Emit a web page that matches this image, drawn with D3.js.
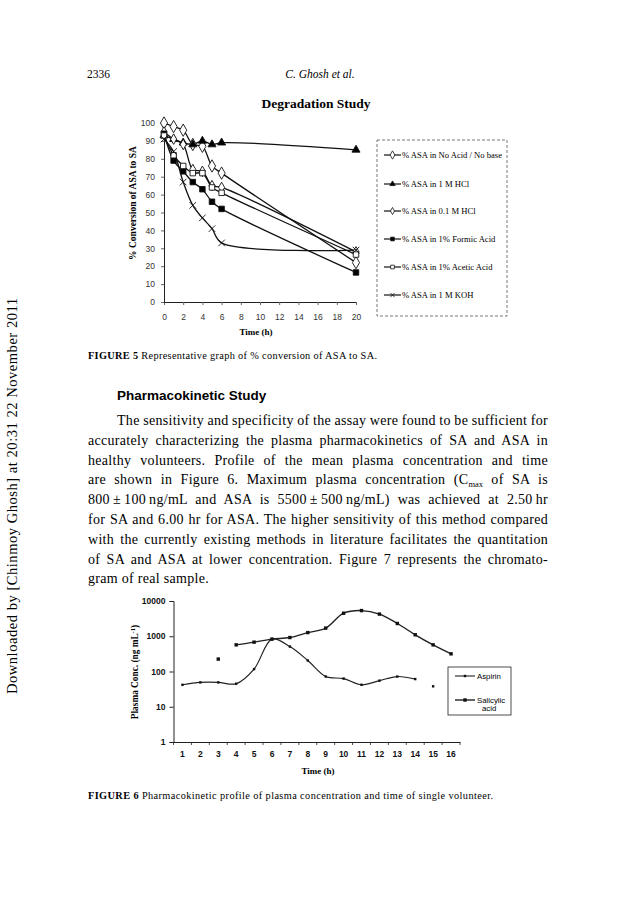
<!DOCTYPE html>
<html><head><meta charset="utf-8">
<script src="https://cdn.jsdelivr.net/npm/d3@7"></script>
<style>body{margin:0;background:#fff} svg{display:block}</style>
</head><body>
<svg id="page" width="638" height="912"></svg>
<script>
// ---------- Figure 5: Degradation Study ----------
const degTimes = [0, 1, 2, 3, 4, 5, 6, 20];
const degNames = ["% ASA in No Acid / No base", "% ASA in 1 M HCl", "% ASA in 0.1 M HCl",
                  "% ASA in 1% Formic Acid", "% ASA in 1% Acetic Acid", "% ASA in 1 M KOH"];
const noAcid  = [100, 98, 96, 88, 87, 76, 72, 22];
const hcl1M   = [93, 91, 89, 88, 90, 88, 89, 85];
const hcl01M  = [95, 91, 88, 74, 73, 65, 64, 28];
const formic  = [94, 79, 73, 67, 63, 56, 52, 16.5];
const acetic  = [93, 82, 76, 72, 72, 64, 61, 26.5];
const koh     = [91, 84, 67, 54, 47, 41, 33, 29];
const degXTicks = [0, 2, 4, 6, 8, 10, 12, 14, 16, 18, 20];
const degYTicks = [0, 10, 20, 30, 40, 50, 60, 70, 80, 90, 100];

// ---------- Figure 6: Pharmacokinetic profile ----------
const pkTimes = ["1","2","3","4","5","6","7","8","9","10","11","12","13","14","15","16"];
const aspirin   = [42, 49, 49, 45, 117, 830, 510, 205, 72, 63, 42, 55, 72, 61, null, null];
const aspirinLone = [["15", 38]];
const salicylic = [null, null, null, 570, 680, 830, 920, 1270, 1700, 4500, 5350, 4250, 2300, 1100, 570, 317];
const salicylicLone = [["3", 225]];
const pkYTicks = [1, 10, 100, 1000, 10000];
const pkNames = ["Aspirin", "Salicylic acid"];

const SERIF = "'Liberation Serif','DejaVu Serif',serif";
const SANS = "'Liberation Sans',Arial,sans-serif";
const svg = d3.select("#page");

// ---------- page header & margin ----------
svg.append("text").attr("x", 87).attr("y", 78).attr("font-family", SERIF).attr("font-size", 11.5).text("2336");
svg.append("text").attr("x", 320).attr("y", 78).attr("text-anchor", "middle").attr("font-family", SERIF)
  .attr("font-size", 11.5).attr("font-style", "italic").text("C. Ghosh et al.");
svg.append("text").attr("transform", "translate(17,496) rotate(-90)").attr("text-anchor", "middle")
  .attr("font-family", SERIF).attr("font-size", 14.5).attr("textLength", 396).attr("lengthAdjust", "spacing")
  .text("Downloaded by [Chinmoy Ghosh] at 20:31 22 November 2011");

// ---------- Figure 5 chart ----------
const x1 = d3.scaleLinear().domain([0, 20]).range([164, 356]);
const y1 = d3.scaleLinear().domain([0, 100]).range([302, 123]);
const g1 = svg.append("g");
g1.append("text").attr("x", 316).attr("y", 108).attr("text-anchor", "middle").attr("font-family", SERIF)
  .attr("font-weight", "bold").attr("font-size", 13.5).text("Degradation Study");

const ax1 = g1.append("g").attr("transform", "translate(0,302)")
  .call(d3.axisBottom(x1).tickValues(degXTicks).tickSize(3).tickPadding(9));
const ay1 = g1.append("g").attr("transform", "translate(164,0)")
  .call(d3.axisLeft(y1).tickValues(degYTicks).tickSize(3).tickPadding(6));
[ax1, ay1].forEach(a => {
  a.select(".domain").attr("stroke", "#222").attr("stroke-width", 1);
  a.selectAll(".tick line").attr("stroke", "#666");
  a.selectAll("text").attr("font-family", SANS).attr("font-size", 8.5).attr("fill", "#333");
});
g1.append("text").attr("x", 256).attr("y", 335).attr("text-anchor", "middle").attr("font-family", SERIF)
  .attr("font-weight", "bold").attr("font-size", 9).text("Time (h)");
g1.append("text").attr("transform", "translate(136,203) rotate(-90)").attr("text-anchor", "middle")
  .attr("font-family", SERIF).attr("font-weight", "bold").attr("font-size", 9.5).text("% Conversion of ASA to SA");

const degSeries = [noAcid, hcl1M, hcl01M, formic, acetic, koh];
const degSym = [
  {type: d3.symbolDiamond, size: 44, fill: "#fff"},
  {type: d3.symbolTriangle, size: 28, fill: "#000"},
  {type: d3.symbolDiamond, size: 32, fill: "#fff"},
  {type: d3.symbolSquare, size: 30, fill: "#000"},
  {type: d3.symbolSquare, size: 30, fill: "#fff"},
  {type: d3.symbolTimes, size: 30, fill: "none"}
];
const line1 = d3.line().x((d, i) => x1(degTimes[i])).y(d => y1(d)).curve(d3.curveCatmullRom.alpha(0.5));
degSeries.forEach(s => {
  g1.append("path").attr("d", line1(s)).attr("fill", "none").attr("stroke", "#111").attr("stroke-width", 1.3);
});
degSeries.forEach((s, k) => {
  const sym = degSym[k];
  g1.selectAll(null).data(s).enter().append("path")
    .attr("transform", (d, i) => `translate(${x1(degTimes[i])},${y1(d)})`)
    .attr("d", d3.symbol().type(sym.type).size(sym.size)())
    .attr("fill", sym.fill).attr("stroke", "#111").attr("stroke-width", 0.9);
});
// legend
const lg1 = g1.append("g");
lg1.append("rect").attr("x", 377).attr("y", 140).attr("width", 130).attr("height", 176)
  .attr("fill", "none").attr("stroke", "#555").attr("stroke-width", 0.8).attr("stroke-dasharray", "3,2");
const legY1 = [155, 184, 211, 239, 267, 295];
degNames.forEach((n, k) => {
  const yy = legY1[k], sym = degSym[k];
  lg1.append("line").attr("x1", 384).attr("x2", 401).attr("y1", yy).attr("y2", yy).attr("stroke", "#111").attr("stroke-width", 1.2);
  lg1.append("path").attr("transform", `translate(392.5,${yy})`)
    .attr("d", d3.symbol().type(sym.type).size(sym.size * 0.45)())
    .attr("fill", sym.fill).attr("stroke", "#111").attr("stroke-width", 0.8);
  lg1.append("text").attr("x", 402).attr("y", yy + 2.8).attr("font-family", SERIF).attr("font-size", 8.6).text(n);
});

// caption 5
const cap5 = svg.append("text").attr("x", 88).attr("y", 359).attr("font-family", SERIF).attr("font-size", 10.3)
  .attr("textLength", 289).attr("lengthAdjust", "spacing");
cap5.append("tspan").attr("font-weight", "bold").text("FIGURE 5 ");
cap5.append("tspan").text("Representative graph of % conversion of ASA to SA.");

// heading
svg.append("text").attr("x", 117).attr("y", 400).attr("font-family", SANS).attr("font-weight", "bold")
  .attr("font-size", 13.5).text("Pharmacokinetic Study");

// paragraph
const paraLines = [
  [{t: "The sensitivity and specificity of the assay were found to be sufficient for"}],
  [{t: "accurately characterizing the plasma pharmacokinetics of SA and ASA in"}],
  [{t: "healthy volunteers. Profile of the mean plasma concentration and time"}],
  [{t: "are shown in Figure 6. Maximum plasma concentration (C"}, {t: "max", sub: true}, {t: " of SA is"}],
  [{t: "800\u2009\u00b1\u2009100\u2009ng/mL and ASA is 5500\u2009\u00b1\u2009500\u2009ng/mL) was achieved at 2.50\u2009hr"}],
  [{t: "for SA and 6.00 hr for ASA. The higher sensitivity of this method compared"}],
  [{t: "with the currently existing methods in literature facilitates the quantitation"}],
  [{t: "of SA and ASA at lower concentration. Figure 7 represents the chromato-"}],
  [{t: "gram of real sample."}]
];
const paraLeft = 88, paraRight = 548;
paraLines.forEach((parts, li) => {
  const x0 = li === 0 ? 117 : paraLeft;
  const yy = 425 + li * 19.8;
  const t = svg.append("text").attr("x", x0).attr("y", yy).attr("font-family", SERIF)
    .attr("font-size", 14).attr("letter-spacing", 0.3);
  let spaces = 0;
  parts.forEach((p, pi) => {
    const ts = t.append("tspan").text(p.t);
    if (p.sub) ts.attr("font-size", 8.5).attr("dy", 3).attr("letter-spacing", 0);
    else if (pi > 0 && parts[pi - 1].sub) ts.attr("dy", -3);
    spaces += (p.t.match(/ /g) || []).length;
  });
  if (li < paraLines.length - 1) {
    const w = t.node().getComputedTextLength();
    t.attr("word-spacing", (paraRight - x0 - w) / spaces);
  }
});

// ---------- Figure 6 chart ----------
const x2 = d3.scaleBand().domain(pkTimes).range([173.5, 460]);
const y2 = d3.scaleLog().domain([1, 10000]).range([742, 601]);
const g2 = svg.append("g");
const ax2 = g2.append("g").attr("transform", "translate(0,742)")
  .call(d3.axisBottom(x2).tickSize(0).tickPadding(9));
// tick marks at category boundaries
g2.selectAll(null).data(d3.range(pkTimes.length + 1)).enter().append("line")
  .attr("x1", i => 173.5 + i * x2.step()).attr("x2", i => 173.5 + i * x2.step())
  .attr("y1", 742).attr("y2", 745).attr("stroke", "#222").attr("stroke-width", 0.8);
const ay2 = g2.append("g").attr("transform", "translate(173.5,0)")
  .call(d3.axisLeft(y2).tickValues(pkYTicks).tickFormat(d3.format("d")).tickSize(4).tickPadding(4));
[ax2, ay2].forEach(a => {
  a.select(".domain").attr("stroke", "#222").attr("stroke-width", 1);
  a.selectAll(".tick line").attr("stroke", "#222");
  a.selectAll("text").attr("font-family", SANS).attr("font-weight", "bold").attr("font-size", 8.5).attr("fill", "#111");
});
g2.append("text").attr("x", 318).attr("y", 774).attr("text-anchor", "middle").attr("font-family", SERIF)
  .attr("font-weight", "bold").attr("font-size", 9).text("Time (h)");
const yl2 = g2.append("text").attr("transform", "translate(138,672) rotate(-90)").attr("text-anchor", "middle")
  .attr("font-family", SERIF).attr("font-weight", "bold").attr("font-size", 9.3);
yl2.append("tspan").text("Plasma Conc. (ng mL");
yl2.append("tspan").attr("font-size", 6.5).attr("dy", -3).text("-1");
yl2.append("tspan").attr("dy", 3).text(")");

const line2 = d3.line().defined(d => d[1] != null)
  .x(d => x2(d[0]) + x2.bandwidth() / 2).y(d => y2(d[1])).curve(d3.curveCatmullRom.alpha(0.5));
const aspData = pkTimes.map((t, i) => [t, aspirin[i]]);
const salData = pkTimes.map((t, i) => [t, salicylic[i]]);
g2.append("path").attr("d", line2(aspData)).attr("fill", "none").attr("stroke", "#222").attr("stroke-width", 1.2);
g2.append("path").attr("d", line2(salData)).attr("fill", "none").attr("stroke", "#222").attr("stroke-width", 1.4);
const aspPts = aspData.filter(d => d[1] != null).concat(aspirinLone);
const salPts = salData.filter(d => d[1] != null).concat(salicylicLone);
g2.selectAll(null).data(aspPts).enter().append("rect")
  .attr("x", d => x2(d[0]) + x2.bandwidth() / 2 - 1.2).attr("y", d => y2(d[1]) - 1.2)
  .attr("width", 2.4).attr("height", 2.4).attr("fill", "#111");
g2.selectAll(null).data(salPts).enter().append("rect")
  .attr("x", d => x2(d[0]) + x2.bandwidth() / 2 - 1.7).attr("y", d => y2(d[1]) - 1.7)
  .attr("width", 3.4).attr("height", 3.4).attr("fill", "#111");
// legend
const lg2 = g2.append("g");
lg2.append("rect").attr("x", 448).attr("y", 667).attr("width", 63).attr("height", 48)
  .attr("fill", "#fff").attr("stroke", "#222").attr("stroke-width", 0.8);
lg2.append("line").attr("x1", 455).attr("x2", 475).attr("y1", 676).attr("y2", 676).attr("stroke", "#222").attr("stroke-width", 1.1);
lg2.append("rect").attr("x", 463.8).attr("y", 674.8).attr("width", 2.4).attr("height", 2.4).attr("fill", "#111");
lg2.append("text").attr("x", 477).attr("y", 678.8).attr("font-family", SANS).attr("font-size", 7.8).text(pkNames[0]);
lg2.append("line").attr("x1", 455).attr("x2", 475).attr("y1", 700).attr("y2", 700).attr("stroke", "#222").attr("stroke-width", 1.4);
lg2.append("rect").attr("x", 463.3).attr("y", 698.3).attr("width", 3.4).attr("height", 3.4).attr("fill", "#111");
const st = lg2.append("text").attr("font-family", SANS).attr("font-size", 7.8);
st.append("tspan").attr("x", 477).attr("y", 702.5).text("Salicylic");
st.append("tspan").attr("x", 482).attr("y", 711).text("acid");

// caption 6
const cap6 = svg.append("text").attr("x", 88).attr("y", 799).attr("font-family", SERIF).attr("font-size", 10.3)
  .attr("textLength", 405).attr("lengthAdjust", "spacing");
cap6.append("tspan").attr("font-weight", "bold").text("FIGURE 6 ");
cap6.append("tspan").text("Pharmacokinetic profile of plasma concentration and time of single volunteer.");
</script>
</body></html>
